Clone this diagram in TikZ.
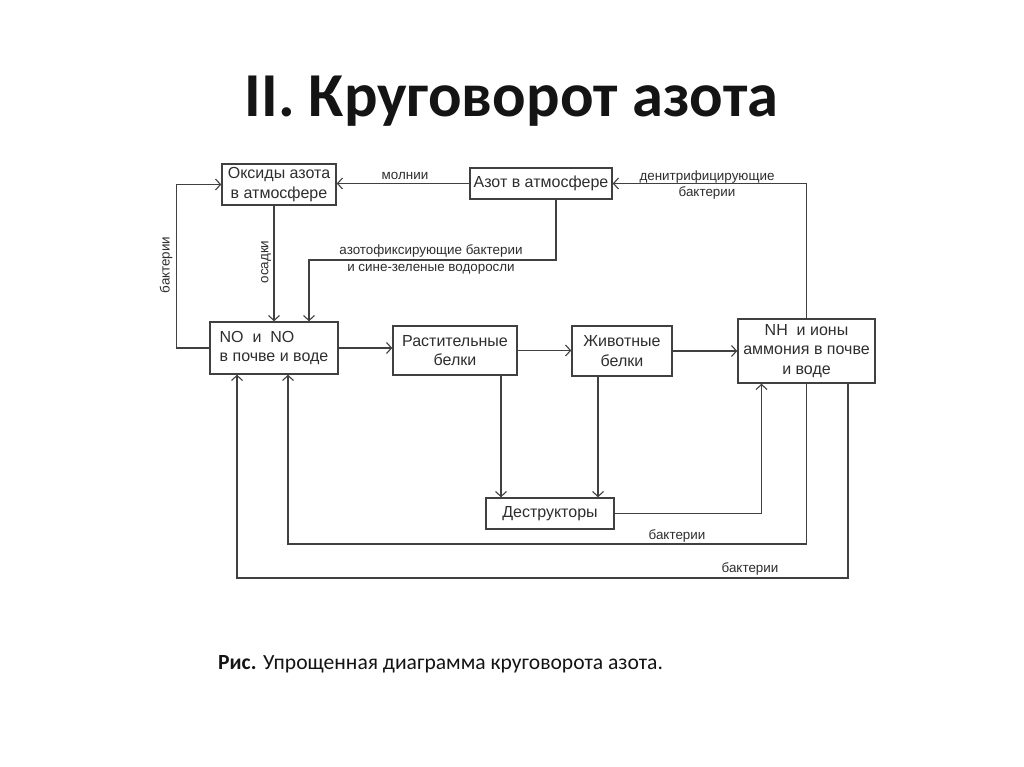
\documentclass[tikz,border=0pt]{standalone}
\usepackage{fontspec}
\setmainfont{Liberation Sans}
\newfontfamily\calib{Carlito}
\usetikzlibrary{arrows.meta}
\definecolor{ink}{HTML}{2E2E2E}
\definecolor{lineink}{HTML}{404040}
\tikzset{
  box/.style={draw=lineink, line width=1.5pt, text=ink, inner sep=1pt, align=center, font=\fontsize{16}{19.5}\selectfont},
  arr/.style={draw=lineink, line width=1.5pt, -{Straight Barb[length=5pt,width=11pt,line width=1.1pt]}},
  lbl/.style={text=ink, inner sep=0pt, align=center, font=\fontsize{13.4}{16.5}\selectfont},
}
\begin{document}
\begin{tikzpicture}[x=1pt,y=-1pt]
\useasboundingbox (0,0) rectangle (1024,767);
\fill[white] (0,0) rectangle (1024,767);
% title
\node[anchor=base, inner sep=0pt, text=black!92, font=\calib\bfseries\fontsize{62.5}{66}\selectfont] (title) at (511.5,117) {II. Круговорот азота};
% boxes
\node[box, minimum width=114pt, minimum height=41pt] (ox) at (279,184.5) {Оксиды азота\\в атмосфере};
\node[box, minimum width=142pt, minimum height=31pt] (az) at (541,183.5) {Азот в атмосфере};
\node[box, minimum width=128pt, minimum height=52pt, align=left] (no) at (274,348) {NO\ \ и\ \ NO\\в почве и воде};
\node[box, minimum width=124pt, minimum height=49pt] (rast) at (455,350.5) {Растительные\\белки};
\node[box, minimum width=100pt, minimum height=50pt] (zhiv) at (622,351) {Животные\\белки};
\node[box, minimum width=137pt, minimum height=64pt] (nh) at (806.5,351) {NH\ \ и ионы\\аммония в почве\\и воде};
\node[box, minimum width=128pt, minimum height=31pt] (destr) at (550,513.5) {Деструкторы};
% connectors
\draw[arr] (az.west) -- (az.west -| ox.east);
\draw[arr] (nh.north) |- (az.east);
\draw[arr] (no.west) -- ++(-33,0) |- (ox.west);
\draw[arr] (ox.south -| no.north) -- (no.north);
\draw[arr] ([xshift=15pt]az.south) |- ([xshift=35pt]no.north |- 0,260) -- ([xshift=35pt]no.north);
\draw[arr] (no.east) -- (no.east -| rast.west);
\draw[arr] (rast.east) -- (rast.east -| zhiv.west);
\draw[arr] (zhiv.east) -- (zhiv.east -| nh.west);
\draw[arr] ([xshift=46pt]rast.south) -- ([xshift=46pt]rast.south |- destr.north);
\draw[arr] ([xshift=-24pt]zhiv.south) -- ([xshift=-24pt]zhiv.south |- destr.north);
\draw[arr] (destr.east) -| ([xshift=-45pt]nh.south);
\draw[arr] (nh.south) -- ++(0,160) -| ([xshift=14pt]no.south);
\draw[arr] ([xshift=41.5pt]nh.south) -- ++(0,194) -| ([xshift=-37pt]no.south);
% labels
\node[lbl] (l1) at (405,176) {молнии};
\node[lbl] (l2) at (707,185) {денитрифицирующие\\бактерии};
\node[lbl] (l3) at (431,259.5) {азотофиксирующие бактерии\\и сине-зеленые водоросли};
\node[lbl, rotate=90] (l4) at (166,265) {бактерии};
\node[lbl, rotate=90] (l5) at (266,262) {осадки};
\node[lbl] (l6) at (677,536) {бактерии};
\node[lbl] (l7) at (750,569) {бактерии};
% caption
\node[anchor=base west, inner sep=0pt, text=black!92, font=\calib\fontsize{21.6}{24}\selectfont] (cap) at (218,669) {\textbf{Рис.} Упрощенная диаграмма круговорота азота.};
\end{tikzpicture}
\end{document}
